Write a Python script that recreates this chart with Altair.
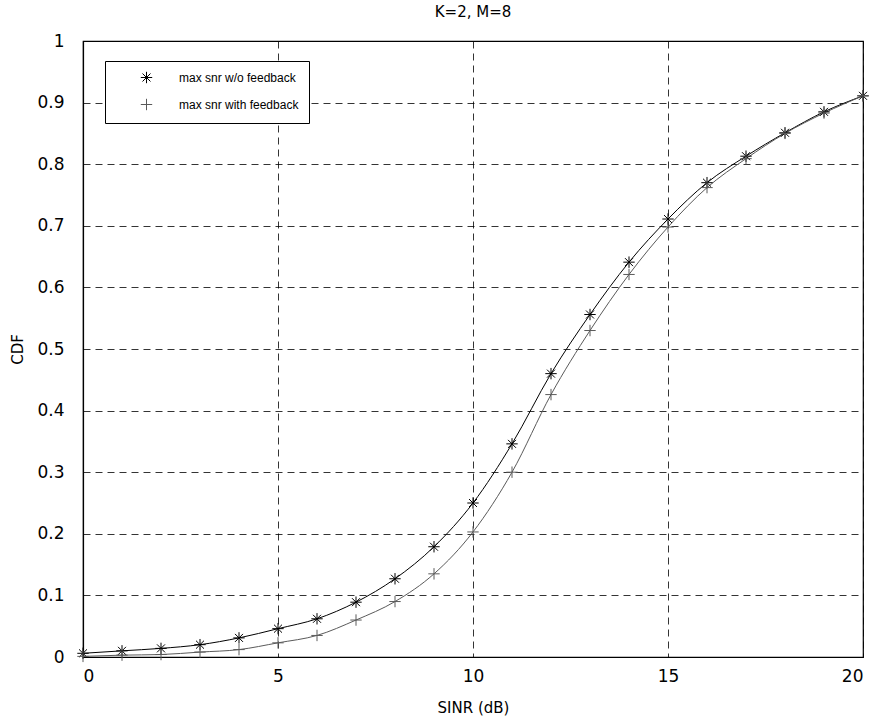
import altair as alt
import pandas as pd

x_vals = list(range(0, 21))
cdf_wo = [0.006, 0.010, 0.014, 0.020, 0.031, 0.046, 0.062, 0.089, 0.127, 0.179, 0.250,
          0.346, 0.460, 0.556, 0.641, 0.711, 0.770, 0.813, 0.851, 0.885, 0.911]
cdf_with = [0.001, 0.003, 0.004, 0.008, 0.012, 0.023, 0.035, 0.060, 0.090, 0.135, 0.203,
            0.300, 0.426, 0.530, 0.621, 0.698, 0.762, 0.809, 0.850, 0.883, 0.911]
series_names = ["max snr w/o feedback", "max snr with feedback"]
x_ticks = [0, 5, 10, 15, 20]
y_ticks = [0, 0.1, 0.2, 0.3, 0.4, 0.5, 0.6, 0.7, 0.8, 0.9, 1.0]

rows = []
for name, vals in zip(series_names, [cdf_wo, cdf_with]):
    for xv, yv in zip(x_vals, vals):
        rows.append({"SINR": xv, "CDF": yv, "series": name})
df = pd.DataFrame(rows)

FONT = "DejaVu Sans"
LFONT = "Liberation Sans"
FS = 17
TFS = 15
LFS = 12
STAR = "M-1,0L1,0M0,-1L0,1M-0.7,-0.7L0.7,0.7M-0.7,0.7L0.7,-0.7"
PLUS = "M-1,0L1,0M0,-1L0,1"
colors = ["#000000", "#5a5a5a"]

xenc = alt.X("SINR:Q", scale=alt.Scale(domain=[0, 20], nice=False, zero=False),
             axis=alt.Axis(values=x_ticks, title="SINR (dB)", titleY=50,
                           titleBaseline="middle", labelPadding=11))
yenc = alt.Y("CDF:Q", scale=alt.Scale(domain=[0, 1], nice=False),
             axis=alt.Axis(values=y_ticks, title="CDF", titleX=-66,
                           titleBaseline="middle", labelPadding=19,
                           labelExpr="datum.value == 0 ? '0' : datum.value == 1 ? '1' : format(datum.value, '.1f')"))

leg = alt.Legend(title=None, orient="none", legendX=22, legendY=20,
                 strokeColor="black", fillColor="white", padding=10,
                 rowPadding=10, symbolOffset=25, labelOffset=26,
                 labelFontSize=LFS, labelFont=LFONT, labelColor="black",
                 symbolStrokeWidth=1, symbolSize=130, cornerRadius=0)

line_layers = []
for name, col in zip(series_names, colors):
    line_layers.append(
        alt.Chart(df).transform_filter(alt.datum.series == name)
        .mark_line(strokeWidth=1, interpolate="monotone", color=col)
        .encode(x=xenc, y=yenc)
    )

points = alt.Chart(df).mark_point(filled=False, strokeWidth=1, size=130, opacity=1).encode(
    x="SINR:Q", y="CDF:Q",
    color=alt.Color("series:N", scale=alt.Scale(domain=series_names, range=colors), legend=leg),
    shape=alt.Shape("series:N", scale=alt.Scale(domain=series_names, range=[STAR, PLUS]), legend=leg),
)

chart = alt.layer(*line_layers, points).properties(
    width=780, height=616,
    title=alt.TitleParams("K=2, M=8", fontSize=TFS, font=FONT, fontWeight="normal",
                          anchor="middle", offset=12, color="black"),
    autosize=alt.AutoSizeParams(type="none"),
    padding={"left": 83, "top": 41, "right": 18, "bottom": 70},
    background="white",
).configure_view(stroke="black", strokeWidth=1.2).configure_axis(
    grid=True, gridColor="black", gridDash=[7, 5], gridWidth=0.8, gridOpacity=1,
    domainColor="black", domainWidth=1.2, ticks=False,
    labelFont=FONT, labelFontSize=FS, labelColor="black",
    titleFont=FONT, titleFontSize=TFS, titleFontWeight="normal", titleColor="black",
)

chart.save("out.html", embed_options={"renderer": "svg", "actions": False})
